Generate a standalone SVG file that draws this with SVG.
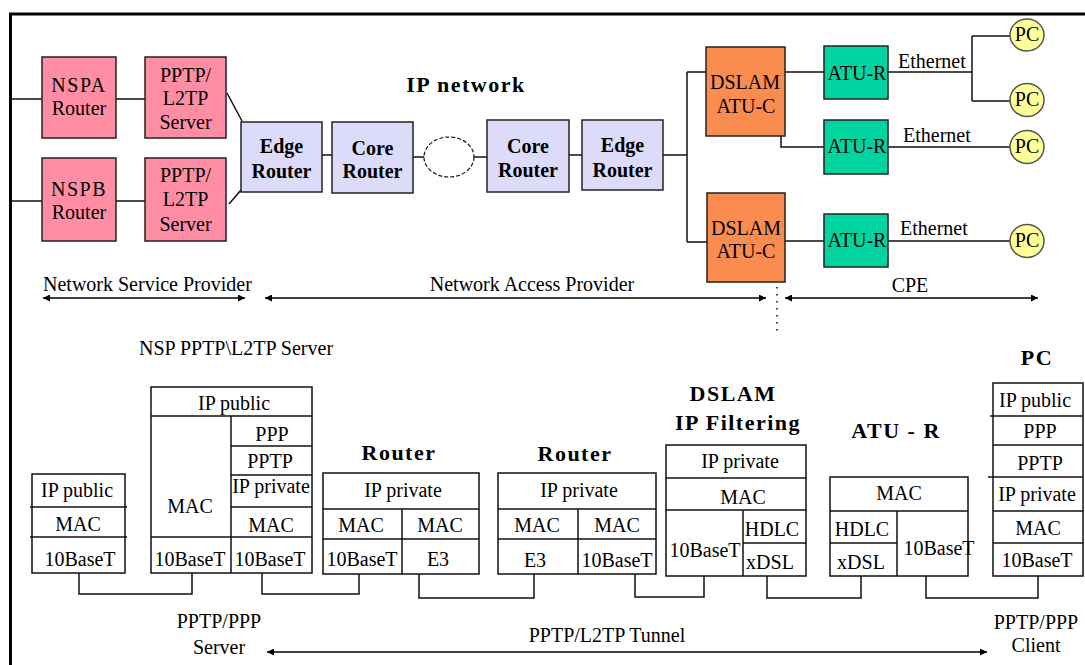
<svg xmlns="http://www.w3.org/2000/svg" width="1085" height="665" viewBox="0 0 1085 665">
<defs>
<marker id="ah" viewBox="0 0 10 10" refX="10" refY="5" markerWidth="9" markerHeight="7" markerUnits="userSpaceOnUse" orient="auto-start-reverse"><path d="M0,0 L10,5 L0,10 z" fill="#000"/></marker>
<style>
.box{stroke:#222;stroke-width:1.5}
.nsp{fill:#FF8EA4}
.rt{fill:#DCDCFA}
.dslam{fill:#FA8C50}
.atu{fill:#00D4A0}
.pc{fill:#FFFF99;stroke:#555;stroke-width:1.5}
.t{font-family:"Liberation Serif","Times New Roman",serif;font-size:20px;text-anchor:middle;fill:#000}
.s{text-anchor:start}
.b{font-weight:bold}
.h{font-weight:bold;font-size:22px;letter-spacing:1.5px}
.st rect{fill:#fff;stroke:#111;stroke-width:1.5}
.st line{stroke:#111;stroke-width:1.5}
.conn{stroke:#111;stroke-width:1.5;fill:none}
.arr{stroke:#000;stroke-width:1.5;fill:none;marker-start:url(#ah);marker-end:url(#ah)}
.dot{stroke:#000;stroke-width:1.5;stroke-dasharray:1.5 5.5;fill:none}
</style>
</defs>
<rect width="1085" height="665" fill="#fff"/>
<path d="M10.5,665 V14 H1085" fill="none" stroke="#000" stroke-width="3"/>

<g id="connectors">
<path class="conn" d="M12,99 H42 M116,99 H145 M12,201 H42 M116,201 H145 M227,93 L242,121 M229,204 L241,190 M322,155 H332 M413,157 H424 M474,157 H487 M569,155 H582 M663,155 H687 M687,72 V242 M687,72 H706 M687,242 H707 M768,72 H824 M781,115 V147 H824 M785,241 H824 M888,72 H972 M972,36 V101 M972,36 H1010 M972,101 H1010 M888,147 H1010 M888,241 H1010"/>
<ellipse cx="449" cy="157" rx="25" ry="20" fill="none" stroke="#111" stroke-width="1.2" stroke-dasharray="4 2"/>
<path class="arr" d="M43,298 H245"/>
<path class="arr" d="M265,298 H766"/>
<path class="arr" d="M785,298 H1038"/>
<path class="dot" d="M777,287 V336"/>
<path class="conn" d="M79,573 V594 H192 V573 M262,573 V594 H359 V574 M419,574 V598 H534 V574 M635,574 V597 H704 V576 M767,576 V598 H861 V576 M926,576 V598 H1038 V576"/>
<path class="arr" d="M267,652 H987"/>
</g>

<g id="nspa-router"><rect class="box nsp" x="42" y="57" width="74" height="81"/><text class="t" x="79" y="92" letter-spacing="1.5">NSPA</text><text class="t" x="79" y="115">Router</text></g>
<g id="pptp-server-a"><rect class="box nsp" x="145" y="57" width="81" height="81"/><text class="t" x="185.5" y="82">PPTP/</text><text class="t" x="185.5" y="105">L2TP</text><text class="t" x="185.5" y="129">Server</text></g>
<g id="nspb-router"><rect class="box nsp" x="42" y="158" width="74" height="83"/><text class="t" x="79" y="196" letter-spacing="1.5">NSPB</text><text class="t" x="79" y="219">Router</text></g>
<g id="pptp-server-b"><rect class="box nsp" x="145" y="158" width="81" height="83"/><text class="t" x="185.5" y="182">PPTP/</text><text class="t" x="185.5" y="206">L2TP</text><text class="t" x="185.5" y="231">Server</text></g>
<g id="edge-router-1"><rect class="box rt" x="241" y="122" width="81" height="70"/><text class="t b" x="281.5" y="153">Edge</text><text class="t b" x="281.5" y="178">Router</text></g>
<g id="core-router-1"><rect class="box rt" x="332" y="122" width="81" height="71"/><text class="t b" x="372.5" y="155">Core</text><text class="t b" x="372.5" y="178">Router</text></g>
<g id="ip-network"><text class="t h" x="466" y="92">IP network</text></g>
<g id="core-router-2"><rect class="box rt" x="487" y="120" width="82" height="72"/><text class="t b" x="528" y="153">Core</text><text class="t b" x="528" y="177">Router</text></g>
<g id="edge-router-2"><rect class="box rt" x="582" y="120" width="81" height="70"/><text class="t b" x="622.5" y="152">Edge</text><text class="t b" x="622.5" y="177">Router</text></g>
<g id="dslam-1"><rect class="box dslam" x="706" y="47" width="79" height="89"/><text class="t" x="745" y="89">DSLAM</text><text class="t" x="746" y="113">ATU-C</text></g>
<g id="dslam-2"><rect class="box dslam" x="707" y="193" width="78" height="89"/><text class="t" x="746" y="235">DSLAM</text><text class="t" x="746" y="258">ATU-C</text></g>
<g id="atu-r-1"><rect class="box atu" x="824" y="46" width="64" height="53"/><text class="t" x="857" y="80">ATU-R</text></g>
<g id="atu-r-2"><rect class="box atu" x="824" y="120" width="64" height="54"/><text class="t" x="857" y="153">ATU-R</text></g>
<g id="atu-r-3"><rect class="box atu" x="824" y="214" width="64" height="53"/><text class="t" x="857" y="247">ATU-R</text></g>
<g id="ethernet-labels"><text class="t s" x="898" y="68">Ethernet</text><text class="t s" x="903" y="142">Ethernet</text><text class="t s" x="900" y="235">Ethernet</text></g>
<g id="pc-1"><ellipse class="pc" cx="1027" cy="35" rx="17" ry="16"/><text class="t" x="1027" y="41" font-size="18">PC</text></g>
<g id="pc-2"><ellipse class="pc" cx="1027" cy="100" rx="17" ry="16.5"/><text class="t" x="1027" y="106" font-size="18">PC</text></g>
<g id="pc-3"><ellipse class="pc" cx="1027" cy="147" rx="17" ry="16.5"/><text class="t" x="1027" y="153" font-size="18">PC</text></g>
<g id="pc-4"><ellipse class="pc" cx="1027" cy="241" rx="17" ry="16.5"/><text class="t" x="1027" y="247" font-size="18">PC</text></g>

<g id="domain-labels"><text class="t s" x="43" y="291">Network Service Provider</text><text class="t" x="532" y="291">Network Access Provider</text><text class="t" x="910" y="292">CPE</text></g>

<g id="stack-client-side" class="st"><rect x="32" y="474" width="93" height="99"/><line x1="30" y1="507" x2="127" y2="507"/><line x1="30" y1="537" x2="127" y2="537"/>
<text class="t" x="77" y="497">IP public</text><text class="t" x="78" y="531">MAC</text><text class="t" x="80" y="566">10BaseT</text></g>

<g id="stack-nsp-server" class="st"><text class="t" x="236" y="355" font-size="19">NSP PPTP\L2TP Server</text>
<rect x="151" y="387" width="161" height="186"/><line x1="151" y1="416" x2="312" y2="416"/><line x1="231" y1="416" x2="231" y2="573"/><line x1="231" y1="446" x2="312" y2="446"/><line x1="231" y1="475" x2="312" y2="475"/><line x1="231" y1="507" x2="312" y2="507"/><line x1="151" y1="537" x2="312" y2="537"/>
<text class="t" x="234" y="410">IP public</text><text class="t" x="190" y="513">MAC</text><text class="t" x="272" y="441">PPP</text><text class="t" x="270" y="468">PPTP</text><text class="t" x="271" y="493">IP private</text><text class="t" x="271" y="532">MAC</text><text class="t" x="190" y="566">10BaseT</text><text class="t" x="270" y="566">10BaseT</text></g>

<g id="stack-router-1" class="st"><text class="t h" x="399" y="460">Router</text>
<rect x="323" y="473" width="156" height="101"/><line x1="323" y1="509" x2="479" y2="509"/><line x1="323" y1="539" x2="479" y2="539"/><line x1="402" y1="509" x2="402" y2="574"/>
<text class="t" x="403" y="497">IP private</text><text class="t" x="361" y="532">MAC</text><text class="t" x="440" y="532">MAC</text><text class="t" x="362" y="566">10BaseT</text><text class="t" x="438" y="566">E3</text></g>

<g id="stack-router-2" class="st"><text class="t h" x="575" y="461">Router</text>
<rect x="498" y="473" width="158" height="101"/><line x1="498" y1="509" x2="656" y2="509"/><line x1="498" y1="539" x2="656" y2="539"/><line x1="578" y1="509" x2="578" y2="574"/>
<text class="t" x="579" y="497">IP private</text><text class="t" x="537" y="532">MAC</text><text class="t" x="617" y="532">MAC</text><text class="t" x="535" y="567">E3</text><text class="t" x="617" y="567">10BaseT</text></g>

<g id="stack-dslam" class="st"><text class="t h" x="733" y="401">DSLAM</text><text class="t h" x="738" y="430" letter-spacing="0.5">IP Filtering</text>
<rect x="666" y="445" width="140" height="131"/><line x1="666" y1="478" x2="806" y2="478"/><line x1="666" y1="510" x2="806" y2="510"/><line x1="743" y1="510" x2="743" y2="576"/><line x1="743" y1="543" x2="806" y2="543"/>
<text class="t" x="740" y="468">IP private</text><text class="t" x="743" y="504">MAC</text><text class="t" x="705" y="557">10BaseT</text><text class="t" x="772" y="536">HDLC</text><text class="t" x="770" y="569">xDSL</text></g>

<g id="stack-atu-r" class="st"><text class="t h" x="896" y="438" letter-spacing="2">ATU - R</text>
<rect x="830" y="477" width="138" height="99"/><line x1="830" y1="511" x2="968" y2="511"/><line x1="897" y1="511" x2="897" y2="576"/><line x1="830" y1="543" x2="897" y2="543"/>
<text class="t" x="899" y="500">MAC</text><text class="t" x="862" y="536">HDLC</text><text class="t" x="861" y="569">xDSL</text><text class="t" x="939" y="555">10BaseT</text></g>

<g id="stack-pc" class="st"><text class="t h" x="1037" y="365">PC</text>
<rect x="993" y="383" width="90" height="193"/><line x1="990" y1="416" x2="1083" y2="416"/><line x1="993" y1="445" x2="1083" y2="445"/><line x1="988" y1="477" x2="1083" y2="477"/><line x1="993" y1="511" x2="1083" y2="511"/><line x1="993" y1="543" x2="1083" y2="543"/>
<text class="t" x="1035" y="407">IP public</text><text class="t" x="1040" y="438">PPP</text><text class="t" x="1040" y="470">PPTP</text><text class="t" x="1037" y="501">IP private</text><text class="t" x="1038" y="535">MAC</text><text class="t" x="1037" y="567">10BaseT</text></g>

<g id="tunnel-labels"><text class="t" x="219" y="628">PPTP/PPP</text><text class="t" x="219" y="654">Server</text><text class="t" x="607" y="642">PPTP/L2TP Tunnel</text><text class="t" x="1036" y="629">PPTP/PPP</text><text class="t" x="1036" y="652">Client</text></g>
</svg>
